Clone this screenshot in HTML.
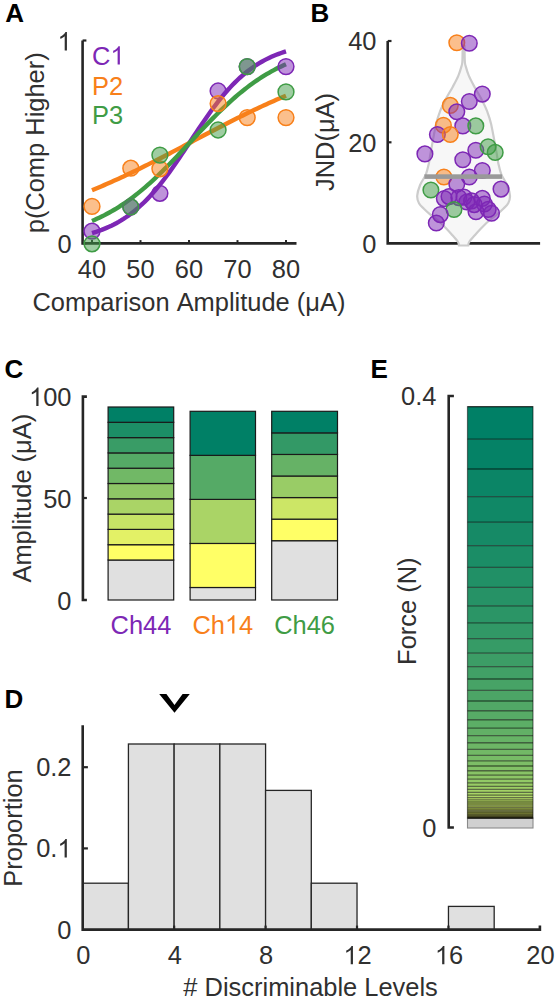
<!DOCTYPE html>
<html><head><meta charset="utf-8"><style>
html,body{margin:0;padding:0;background:#fff;}
svg{display:block;font-family:"Liberation Sans",sans-serif;font-kerning:none;font-feature-settings:"kern" 0;}
</style></head><body>
<svg width="556" height="1000" viewBox="0 0 556 1000">
<rect width="556" height="1000" fill="#fff"/>
<text x="5.2" y="21.6" text-anchor="start" fill="#000" font-size="26.0" font-weight="bold">A</text>
<text x="310.6" y="21.8" text-anchor="start" fill="#000" font-size="26.0" font-weight="bold">B</text>
<text x="4.4" y="378" text-anchor="start" fill="#000" font-size="26.0" font-weight="bold">C</text>
<text x="370.6" y="378" text-anchor="start" fill="#000" font-size="26.0" font-weight="bold">E</text>
<text x="4.4" y="707.7" text-anchor="start" fill="#000" font-size="26.0" font-weight="bold">D</text>
<path d="M82.6 40.5 V243.4 H296.5" fill="none" stroke="#262626" stroke-width="2.6" stroke-linejoin="miter"/>
<line x1="82.6" y1="40.5" x2="86.39999999999999" y2="40.5" stroke="#262626" stroke-width="2.2" stroke-linecap="butt"/>
<line x1="82.6" y1="243.4" x2="86.39999999999999" y2="243.4" stroke="#262626" stroke-width="2.2" stroke-linecap="butt"/>
<line x1="92.0" y1="243.4" x2="92.0" y2="240.1" stroke="#262626" stroke-width="2.0" stroke-linecap="butt"/>
<text x="92.0" y="278.3" text-anchor="middle" fill="#303030" font-size="25.45" font-weight="normal">40</text>
<line x1="140.5" y1="243.4" x2="140.5" y2="240.1" stroke="#262626" stroke-width="2.0" stroke-linecap="butt"/>
<text x="140.5" y="278.3" text-anchor="middle" fill="#303030" font-size="25.45" font-weight="normal">50</text>
<line x1="189.0" y1="243.4" x2="189.0" y2="240.1" stroke="#262626" stroke-width="2.0" stroke-linecap="butt"/>
<text x="189.0" y="278.3" text-anchor="middle" fill="#303030" font-size="25.45" font-weight="normal">60</text>
<line x1="237.5" y1="243.4" x2="237.5" y2="240.1" stroke="#262626" stroke-width="2.0" stroke-linecap="butt"/>
<text x="237.5" y="278.3" text-anchor="middle" fill="#303030" font-size="25.45" font-weight="normal">70</text>
<line x1="286.0" y1="243.4" x2="286.0" y2="240.1" stroke="#262626" stroke-width="2.0" stroke-linecap="butt"/>
<text x="286.0" y="278.3" text-anchor="middle" fill="#303030" font-size="25.45" font-weight="normal">80</text>
<path transform="translate(57.45,50.4) scale(0.012427,-0.012427)" d="M763 0H583V1147Q518 1085 412.5 1023T223 930V1104Q375 1175 489 1276T650 1472H763V0Z" fill="#303030"/>
<text x="71.6" y="50.4" text-anchor="end" fill="#303030" font-size="25.45" font-weight="normal"> </text>
<text x="71.6" y="253.0" text-anchor="end" fill="#303030" font-size="25.45" font-weight="normal">0</text>
<text x="188.9" y="310.5" text-anchor="middle" fill="#303030" font-size="25.45" font-weight="normal">Comparison Amplitude (μA)</text>
<text transform="translate(43.5,142.8) rotate(-90)" text-anchor="middle" fill="#303030" font-size="25.45" font-weight="normal">p(Comp Higher)</text>
<path transform="translate(110.38,64.5) scale(0.012427,-0.012427)" d="M763 0H583V1147Q518 1085 412.5 1023T223 930V1104Q375 1175 489 1276T650 1472H763V0Z" fill="#7D27B5"/>
<text x="92.0" y="64.5" text-anchor="start" fill="#7D27B5" font-size="25.45" font-weight="normal">C </text>
<text x="92.0" y="94.5" text-anchor="start" fill="#F8801A" font-size="25.45" font-weight="normal">P2</text>
<text x="92.0" y="124.2" text-anchor="start" fill="#3F9C45" font-size="25.45" font-weight="normal">P3</text>
<polyline points="92.00,233.09 94.42,232.36 96.85,231.58 99.28,230.74 101.70,229.86 104.12,228.91 106.55,227.90 108.97,226.84 111.40,225.70 113.83,224.49 116.25,223.21 118.67,221.86 121.10,220.42 123.53,218.90 125.95,217.30 128.38,215.61 130.80,213.82 133.22,211.94 135.65,209.97 138.07,207.90 140.50,205.72 142.93,203.45 145.35,201.07 147.78,198.59 150.20,196.01 152.62,193.33 155.05,190.55 157.47,187.67 159.90,184.69 162.32,181.62 164.75,178.47 167.18,175.23 169.60,171.91 172.02,168.52 174.45,165.06 176.88,161.55 179.30,157.99 181.72,154.38 184.15,150.75 186.57,147.09 189.00,143.42 191.43,139.74 193.85,136.08 196.27,132.42 198.70,128.79 201.12,125.20 203.55,121.64 205.97,118.14 208.40,114.70 210.82,111.32 213.25,108.02 215.68,104.80 218.10,101.66 220.52,98.61 222.95,95.65 225.38,92.79 227.80,90.02 230.22,87.36 232.65,84.80 235.07,82.34 237.50,79.99 239.92,77.73 242.35,75.58 244.77,73.53 247.20,71.57 249.62,69.71 252.05,67.95 254.47,66.27 256.90,64.69 259.32,63.18 261.75,61.77 264.17,60.42 266.60,59.16 269.02,57.97 271.45,56.85 273.88,55.79 276.30,54.80 278.73,53.86 281.15,52.99 283.57,52.16 286.00,51.39" fill="none" stroke="#7D27B5" stroke-width="4.4"/>
<polyline points="92.00,190.23 94.42,189.23 96.85,188.23 99.28,187.20 101.70,186.17 104.12,185.13 106.55,184.08 108.97,183.01 111.40,181.93 113.83,180.85 116.25,179.75 118.67,178.64 121.10,177.52 123.53,176.39 125.95,175.25 128.38,174.11 130.80,172.95 133.22,171.78 135.65,170.61 138.07,169.43 140.50,168.24 142.93,167.04 145.35,165.83 147.78,164.62 150.20,163.40 152.62,162.17 155.05,160.94 157.47,159.70 159.90,158.45 162.32,157.20 164.75,155.95 167.18,154.69 169.60,153.43 172.02,152.16 174.45,150.89 176.88,149.62 179.30,148.35 181.72,147.07 184.15,145.79 186.57,144.51 189.00,143.23 191.43,141.95 193.85,140.67 196.27,139.39 198.70,138.11 201.12,136.83 203.55,135.55 205.97,134.28 208.40,133.01 210.82,131.74 213.25,130.47 215.68,129.21 218.10,127.95 220.52,126.70 222.95,125.45 225.38,124.20 227.80,122.96 230.22,121.73 232.65,120.50 235.07,119.28 237.50,118.07 239.92,116.86 242.35,115.66 244.77,114.47 247.20,113.29 249.62,112.12 252.05,110.95 254.47,109.79 256.90,108.65 259.32,107.51 261.75,106.38 264.17,105.26 266.60,104.15 269.02,103.05 271.45,101.97 273.88,100.89 276.30,99.82 278.73,98.77 281.15,97.73 283.57,96.70 286.00,95.67" fill="none" stroke="#F8801A" stroke-width="4.4"/>
<polyline points="92.00,220.99 94.42,219.95 96.85,218.86 99.28,217.73 101.70,216.56 104.12,215.34 106.55,214.07 108.97,212.76 111.40,211.40 113.83,209.99 116.25,208.53 118.67,207.02 121.10,205.46 123.53,203.85 125.95,202.19 128.38,200.47 130.80,198.71 133.22,196.89 135.65,195.02 138.07,193.11 140.50,191.14 142.93,189.12 145.35,187.05 147.78,184.94 150.20,182.77 152.62,180.57 155.05,178.32 157.47,176.02 159.90,173.69 162.32,171.32 164.75,168.92 167.18,166.48 169.60,164.01 172.02,161.51 174.45,158.99 176.88,156.45 179.30,153.88 181.72,151.31 184.15,148.72 186.57,146.12 189.00,143.51 191.43,140.91 193.85,138.30 196.27,135.70 198.70,133.11 201.12,130.53 203.55,127.96 205.97,125.42 208.40,122.89 210.82,120.39 213.25,117.91 215.68,115.47 218.10,113.06 220.52,110.68 222.95,108.34 225.38,106.04 227.80,103.78 230.22,101.56 232.65,99.39 235.07,97.27 237.50,95.19 239.92,93.16 242.35,91.18 244.77,89.26 247.20,87.38 249.62,85.55 252.05,83.78 254.47,82.05 256.90,80.38 259.32,78.76 261.75,77.19 264.17,75.67 266.60,74.20 269.02,72.78 271.45,71.41 273.88,70.09 276.30,68.81 278.73,67.58 281.15,66.40 283.57,65.26 286.00,64.17" fill="none" stroke="#3F9C45" stroke-width="4.4"/>
<circle cx="92.00" cy="231.2" r="7.9" fill="#7D27B5" fill-opacity="0.5" stroke="#7D27B5" stroke-width="1.5"/>
<circle cx="130.80" cy="207.0" r="7.9" fill="#7D27B5" fill-opacity="0.5" stroke="#7D27B5" stroke-width="1.5"/>
<circle cx="159.90" cy="193.3" r="7.9" fill="#7D27B5" fill-opacity="0.5" stroke="#7D27B5" stroke-width="1.5"/>
<circle cx="218.10" cy="91.0" r="7.9" fill="#7D27B5" fill-opacity="0.5" stroke="#7D27B5" stroke-width="1.5"/>
<circle cx="247.20" cy="66.6" r="7.9" fill="#7D27B5" fill-opacity="0.5" stroke="#7D27B5" stroke-width="1.5"/>
<circle cx="286.00" cy="66.6" r="7.9" fill="#7D27B5" fill-opacity="0.5" stroke="#7D27B5" stroke-width="1.5"/>
<circle cx="92.00" cy="206.4" r="7.9" fill="#F8801A" fill-opacity="0.5" stroke="#F8801A" stroke-width="1.5"/>
<circle cx="130.80" cy="168.2" r="7.9" fill="#F8801A" fill-opacity="0.5" stroke="#F8801A" stroke-width="1.5"/>
<circle cx="159.90" cy="168.8" r="7.9" fill="#F8801A" fill-opacity="0.5" stroke="#F8801A" stroke-width="1.5"/>
<circle cx="218.10" cy="103.6" r="7.9" fill="#F8801A" fill-opacity="0.5" stroke="#F8801A" stroke-width="1.5"/>
<circle cx="247.20" cy="117.6" r="7.9" fill="#F8801A" fill-opacity="0.5" stroke="#F8801A" stroke-width="1.5"/>
<circle cx="286.00" cy="117.6" r="7.9" fill="#F8801A" fill-opacity="0.5" stroke="#F8801A" stroke-width="1.5"/>
<circle cx="92.00" cy="243.8" r="7.9" fill="#3F9C45" fill-opacity="0.5" stroke="#3F9C45" stroke-width="1.5"/>
<circle cx="130.80" cy="207.0" r="7.9" fill="#3F9C45" fill-opacity="0.5" stroke="#3F9C45" stroke-width="1.5"/>
<circle cx="159.90" cy="155.1" r="7.9" fill="#3F9C45" fill-opacity="0.5" stroke="#3F9C45" stroke-width="1.5"/>
<circle cx="218.10" cy="130.0" r="7.9" fill="#3F9C45" fill-opacity="0.5" stroke="#3F9C45" stroke-width="1.5"/>
<circle cx="247.20" cy="66.6" r="7.9" fill="#3F9C45" fill-opacity="0.5" stroke="#3F9C45" stroke-width="1.5"/>
<circle cx="286.00" cy="91.9" r="7.9" fill="#3F9C45" fill-opacity="0.5" stroke="#3F9C45" stroke-width="1.5"/>
<path d="M387.7 41.0 V243.4 H540.1" fill="none" stroke="#262626" stroke-width="2.6"/>
<path d="M462.70 45.50 C462.65 48.08 462.58 57.60 462.40 61.00 C462.22 64.40 462.27 63.47 461.60 65.90 C460.93 68.33 459.88 72.10 458.40 75.60 C456.92 79.10 454.73 83.12 452.70 86.90 C450.67 90.68 448.30 94.25 446.20 98.30 C444.10 102.35 441.78 106.90 440.10 111.20 C438.42 115.50 437.65 117.32 436.10 124.10 C434.55 130.88 432.02 145.30 430.80 151.90 C429.58 158.50 429.63 159.92 428.80 163.70 C427.97 167.48 427.25 171.05 425.80 174.60 C424.35 178.15 421.53 181.47 420.10 185.00 C418.67 188.53 417.38 192.75 417.20 195.80 C417.02 198.85 417.88 201.15 419.00 203.30 C420.12 205.45 422.10 206.90 423.90 208.70 C425.70 210.50 427.35 212.05 429.80 214.10 C432.25 216.15 435.90 218.65 438.60 221.00 C441.30 223.35 443.88 226.03 446.00 228.20 C448.12 230.37 449.30 231.70 451.30 234.00 C453.30 236.30 456.75 240.08 458.00 242.00 C459.25 243.92 458.67 244.92 458.80 245.50 L468.40 245.50 C468.53 244.92 467.95 243.92 469.20 242.00 C470.45 240.08 473.90 236.30 475.90 234.00 C477.90 231.70 479.08 230.37 481.20 228.20 C483.32 226.03 485.90 223.35 488.60 221.00 C491.30 218.65 494.95 216.15 497.40 214.10 C499.85 212.05 501.50 210.50 503.30 208.70 C505.10 206.90 507.08 205.45 508.20 203.30 C509.32 201.15 510.18 198.85 510.00 195.80 C509.82 192.75 508.53 188.53 507.10 185.00 C505.67 181.47 502.85 178.15 501.40 174.60 C499.95 171.05 499.23 167.48 498.40 163.70 C497.57 159.92 497.62 158.50 496.40 151.90 C495.18 145.30 492.65 130.88 491.10 124.10 C489.55 117.32 488.78 115.50 487.10 111.20 C485.42 106.90 483.10 102.35 481.00 98.30 C478.90 94.25 476.53 90.68 474.50 86.90 C472.47 83.12 470.28 79.10 468.80 75.60 C467.32 72.10 466.27 68.33 465.60 65.90 C464.93 63.47 464.98 64.40 464.80 61.00 C464.62 57.60 464.55 48.08 464.50 45.50 Z" fill="#F7F7F7" stroke="#CCCCCC" stroke-width="2.2" stroke-linejoin="round"/>
<line x1="387.7" y1="41.0" x2="391.5" y2="41.0" stroke="#262626" stroke-width="2.2" stroke-linecap="butt"/>
<line x1="387.7" y1="142.3" x2="391.5" y2="142.3" stroke="#262626" stroke-width="2.2" stroke-linecap="butt"/>
<text x="376.5" y="50.3" text-anchor="end" fill="#303030" font-size="25.45" font-weight="normal">40</text>
<text x="376.5" y="151.9" text-anchor="end" fill="#303030" font-size="25.45" font-weight="normal">20</text>
<text x="376.5" y="253.3" text-anchor="end" fill="#303030" font-size="25.45" font-weight="normal">0</text>
<text transform="translate(334.0,142.0) rotate(-90)" text-anchor="middle" fill="#303030" font-size="25.45" font-weight="normal">JND(μA)</text>
<circle cx="456.8" cy="42.8" r="7.8" fill="#F8801A" fill-opacity="0.5" stroke="#F8801A" stroke-width="1.5"/>
<circle cx="469.3" cy="43.2" r="7.8" fill="#7D27B5" fill-opacity="0.5" stroke="#7D27B5" stroke-width="1.5"/>
<circle cx="482.3" cy="94.1" r="7.8" fill="#7D27B5" fill-opacity="0.5" stroke="#7D27B5" stroke-width="1.5"/>
<circle cx="469.3" cy="101.5" r="7.8" fill="#7D27B5" fill-opacity="0.5" stroke="#7D27B5" stroke-width="1.5"/>
<circle cx="450.3" cy="105.4" r="7.8" fill="#F8801A" fill-opacity="0.5" stroke="#F8801A" stroke-width="1.5"/>
<circle cx="456.8" cy="111.8" r="7.8" fill="#7D27B5" fill-opacity="0.5" stroke="#7D27B5" stroke-width="1.5"/>
<circle cx="443.4" cy="125.2" r="7.8" fill="#F8801A" fill-opacity="0.5" stroke="#F8801A" stroke-width="1.5"/>
<circle cx="462.8" cy="125.9" r="7.8" fill="#7D27B5" fill-opacity="0.5" stroke="#7D27B5" stroke-width="1.5"/>
<circle cx="475.8" cy="125.9" r="7.8" fill="#3F9C45" fill-opacity="0.5" stroke="#3F9C45" stroke-width="1.5"/>
<circle cx="437.4" cy="134.5" r="7.8" fill="#7D27B5" fill-opacity="0.5" stroke="#7D27B5" stroke-width="1.5"/>
<circle cx="450.3" cy="134.5" r="7.8" fill="#F8801A" fill-opacity="0.5" stroke="#F8801A" stroke-width="1.5"/>
<circle cx="424.9" cy="153.9" r="7.8" fill="#7D27B5" fill-opacity="0.5" stroke="#7D27B5" stroke-width="1.5"/>
<circle cx="475.8" cy="150.2" r="7.8" fill="#7D27B5" fill-opacity="0.5" stroke="#7D27B5" stroke-width="1.5"/>
<circle cx="488.1" cy="146.8" r="7.8" fill="#3F9C45" fill-opacity="0.5" stroke="#3F9C45" stroke-width="1.5"/>
<circle cx="495.2" cy="152.4" r="7.8" fill="#3F9C45" fill-opacity="0.5" stroke="#3F9C45" stroke-width="1.5"/>
<circle cx="462.8" cy="159.7" r="7.8" fill="#7D27B5" fill-opacity="0.5" stroke="#7D27B5" stroke-width="1.5"/>
<circle cx="482.3" cy="170.5" r="7.8" fill="#7D27B5" fill-opacity="0.5" stroke="#7D27B5" stroke-width="1.5"/>
<circle cx="469.3" cy="177.0" r="7.8" fill="#7D27B5" fill-opacity="0.5" stroke="#7D27B5" stroke-width="1.5"/>
<circle cx="443.9" cy="177.0" r="7.8" fill="#F8801A" fill-opacity="0.5" stroke="#F8801A" stroke-width="1.5"/>
<circle cx="456.8" cy="184.1" r="7.8" fill="#7D27B5" fill-opacity="0.5" stroke="#7D27B5" stroke-width="1.5"/>
<circle cx="430.9" cy="190.0" r="7.8" fill="#3F9C45" fill-opacity="0.5" stroke="#3F9C45" stroke-width="1.5"/>
<circle cx="501.0" cy="189.1" r="7.8" fill="#7D27B5" fill-opacity="0.5" stroke="#7D27B5" stroke-width="1.5"/>
<circle cx="444.3" cy="198.6" r="7.8" fill="#7D27B5" fill-opacity="0.5" stroke="#7D27B5" stroke-width="1.5"/>
<circle cx="449.0" cy="196.6" r="7.8" fill="#7D27B5" fill-opacity="0.5" stroke="#7D27B5" stroke-width="1.5"/>
<circle cx="458.8" cy="197.6" r="7.8" fill="#7D27B5" fill-opacity="0.5" stroke="#7D27B5" stroke-width="1.5"/>
<circle cx="464.0" cy="197.1" r="7.8" fill="#7D27B5" fill-opacity="0.5" stroke="#7D27B5" stroke-width="1.5"/>
<circle cx="466.8" cy="202.0" r="7.8" fill="#7D27B5" fill-opacity="0.5" stroke="#7D27B5" stroke-width="1.5"/>
<circle cx="471.6" cy="200.9" r="7.8" fill="#7D27B5" fill-opacity="0.5" stroke="#7D27B5" stroke-width="1.5"/>
<circle cx="474.2" cy="204.6" r="7.8" fill="#7D27B5" fill-opacity="0.5" stroke="#7D27B5" stroke-width="1.5"/>
<circle cx="482.3" cy="198.4" r="7.8" fill="#7D27B5" fill-opacity="0.5" stroke="#7D27B5" stroke-width="1.5"/>
<circle cx="484.4" cy="204.0" r="7.8" fill="#7D27B5" fill-opacity="0.5" stroke="#7D27B5" stroke-width="1.5"/>
<circle cx="488.2" cy="209.4" r="7.8" fill="#7D27B5" fill-opacity="0.5" stroke="#7D27B5" stroke-width="1.5"/>
<circle cx="476.0" cy="211.8" r="7.8" fill="#7D27B5" fill-opacity="0.5" stroke="#7D27B5" stroke-width="1.5"/>
<circle cx="491.5" cy="213.2" r="7.8" fill="#7D27B5" fill-opacity="0.5" stroke="#7D27B5" stroke-width="1.5"/>
<circle cx="454.0" cy="209.5" r="7.8" fill="#3F9C45" fill-opacity="0.5" stroke="#3F9C45" stroke-width="1.5"/>
<circle cx="440.3" cy="214.6" r="7.8" fill="#7D27B5" fill-opacity="0.5" stroke="#7D27B5" stroke-width="1.5"/>
<circle cx="436.3" cy="223.0" r="7.8" fill="#7D27B5" fill-opacity="0.5" stroke="#7D27B5" stroke-width="1.5"/>
<rect x="424.4" y="174.3" width="77.7" height="4.6" fill="#999999"/>
<path d="M86.9 396.6 H82.9 V600.0 H86.9" fill="none" stroke="#262626" stroke-width="2.6"/>
<line x1="82.9" y1="498.0" x2="86.9" y2="498.0" stroke="#262626" stroke-width="2.2" stroke-linecap="butt"/>
<path transform="translate(29.04,405.9) scale(0.012427,-0.012427)" d="M763 0H583V1147Q518 1085 412.5 1023T223 930V1104Q375 1175 489 1276T650 1472H763V0Z" fill="#303030"/>
<text x="71.5" y="405.9" text-anchor="end" fill="#303030" font-size="25.45" font-weight="normal"> 00</text>
<text x="71.5" y="507.6" text-anchor="end" fill="#303030" font-size="25.45" font-weight="normal">50</text>
<text x="71.5" y="609.5" text-anchor="end" fill="#303030" font-size="25.45" font-weight="normal">0</text>
<text transform="translate(30.8,498.2) rotate(-90)" text-anchor="middle" fill="#303030" font-size="25.45" font-weight="normal">Amplitude (μA)</text>
<rect x="108.1" y="560.0" width="65.6" height="40.0" fill="#E0E0E0" stroke="#1a1a1a" stroke-width="1.2"/>
<rect x="108.1" y="544.70" width="65.6" height="15.30" fill="#FFFF66" stroke="#1a1a1a" stroke-width="1.2"/>
<rect x="108.1" y="529.40" width="65.6" height="15.30" fill="#E3F166" stroke="#1a1a1a" stroke-width="1.2"/>
<rect x="108.1" y="514.10" width="65.6" height="15.30" fill="#C6E366" stroke="#1a1a1a" stroke-width="1.2"/>
<rect x="108.1" y="498.80" width="65.6" height="15.30" fill="#AAD466" stroke="#1a1a1a" stroke-width="1.2"/>
<rect x="108.1" y="483.50" width="65.6" height="15.30" fill="#8EC666" stroke="#1a1a1a" stroke-width="1.2"/>
<rect x="108.1" y="468.20" width="65.6" height="15.30" fill="#71B866" stroke="#1a1a1a" stroke-width="1.2"/>
<rect x="108.1" y="452.90" width="65.6" height="15.30" fill="#55AA66" stroke="#1a1a1a" stroke-width="1.2"/>
<rect x="108.1" y="437.60" width="65.6" height="15.30" fill="#399C66" stroke="#1a1a1a" stroke-width="1.2"/>
<rect x="108.1" y="422.30" width="65.6" height="15.30" fill="#1C8E66" stroke="#1a1a1a" stroke-width="1.2"/>
<rect x="108.1" y="407.00" width="65.6" height="15.30" fill="#008066" stroke="#1a1a1a" stroke-width="1.2"/>
<rect x="190.1" y="587.5" width="65.4" height="12.5" fill="#E0E0E0" stroke="#1a1a1a" stroke-width="1.2"/>
<rect x="190.1" y="543.45" width="65.4" height="44.05" fill="#FFFF66" stroke="#1a1a1a" stroke-width="1.2"/>
<rect x="190.1" y="499.40" width="65.4" height="44.05" fill="#AAD466" stroke="#1a1a1a" stroke-width="1.2"/>
<rect x="190.1" y="455.35" width="65.4" height="44.05" fill="#55AA66" stroke="#1a1a1a" stroke-width="1.2"/>
<rect x="190.1" y="411.30" width="65.4" height="44.05" fill="#008066" stroke="#1a1a1a" stroke-width="1.2"/>
<rect x="271.7" y="540.7" width="65.80000000000001" height="59.299999999999955" fill="#E0E0E0" stroke="#1a1a1a" stroke-width="1.2"/>
<rect x="271.7" y="519.13" width="65.80000000000001" height="21.57" fill="#FFFF66" stroke="#1a1a1a" stroke-width="1.2"/>
<rect x="271.7" y="497.57" width="65.80000000000001" height="21.57" fill="#CCE666" stroke="#1a1a1a" stroke-width="1.2"/>
<rect x="271.7" y="476.00" width="65.80000000000001" height="21.57" fill="#99CC66" stroke="#1a1a1a" stroke-width="1.2"/>
<rect x="271.7" y="454.43" width="65.80000000000001" height="21.57" fill="#66B266" stroke="#1a1a1a" stroke-width="1.2"/>
<rect x="271.7" y="432.87" width="65.80000000000001" height="21.57" fill="#339966" stroke="#1a1a1a" stroke-width="1.2"/>
<rect x="271.7" y="411.30" width="65.80000000000001" height="21.57" fill="#008066" stroke="#1a1a1a" stroke-width="1.2"/>
<text x="141.0" y="633.5" text-anchor="middle" fill="#7D27B5" font-size="25.45" font-weight="normal">Ch44</text>
<path transform="translate(224.91,633.5) scale(0.012427,-0.012427)" d="M763 0H583V1147Q518 1085 412.5 1023T223 930V1104Q375 1175 489 1276T650 1472H763V0Z" fill="#F8801A"/>
<text x="222.8" y="633.5" text-anchor="middle" fill="#F8801A" font-size="25.45" font-weight="normal">Ch 4</text>
<text x="304.6" y="633.5" text-anchor="middle" fill="#3F9C45" font-size="25.45" font-weight="normal">Ch46</text>
<path d="M453.9 396.0 H448.7 V827.5 H453.9" fill="none" stroke="#262626" stroke-width="2.6"/>
<text x="436.4" y="405.0" text-anchor="end" fill="#303030" font-size="25.45" font-weight="normal">0.4</text>
<text x="436.4" y="836.5" text-anchor="end" fill="#303030" font-size="25.45" font-weight="normal">0</text>
<text transform="translate(416.4,611.2) rotate(-90)" text-anchor="middle" fill="#303030" font-size="25.45" font-weight="normal">Force (N)</text>
<rect x="467.5" y="818.10" width="65.5" height="9.90" fill="#D0D0D0" stroke="#8a8a8a" stroke-width="1.1"/>
<rect x="467.5" y="406.70" width="65.5" height="32.40" fill="#008066"/>
<rect x="467.5" y="439.10" width="65.5" height="29.91" fill="#058266"/>
<rect x="467.5" y="469.01" width="65.5" height="27.60" fill="#0B8566"/>
<rect x="467.5" y="496.61" width="65.5" height="25.48" fill="#108866"/>
<rect x="467.5" y="522.09" width="65.5" height="23.52" fill="#168A66"/>
<rect x="467.5" y="545.61" width="65.5" height="21.71" fill="#1B8D66"/>
<rect x="467.5" y="567.31" width="65.5" height="20.03" fill="#219066"/>
<rect x="467.5" y="587.35" width="65.5" height="18.49" fill="#269266"/>
<rect x="467.5" y="605.84" width="65.5" height="17.07" fill="#2B9566"/>
<rect x="467.5" y="622.91" width="65.5" height="15.75" fill="#319866"/>
<rect x="467.5" y="638.66" width="65.5" height="14.54" fill="#369B66"/>
<rect x="467.5" y="653.20" width="65.5" height="13.42" fill="#3C9D66"/>
<rect x="467.5" y="666.62" width="65.5" height="12.39" fill="#41A066"/>
<rect x="467.5" y="679.01" width="65.5" height="11.43" fill="#47A366"/>
<rect x="467.5" y="690.44" width="65.5" height="10.55" fill="#4CA566"/>
<rect x="467.5" y="701.00" width="65.5" height="9.74" fill="#51A866"/>
<rect x="467.5" y="710.74" width="65.5" height="8.99" fill="#57AB66"/>
<rect x="467.5" y="719.73" width="65.5" height="8.30" fill="#5CAE66"/>
<rect x="467.5" y="728.03" width="65.5" height="7.66" fill="#62B066"/>
<rect x="467.5" y="735.69" width="65.5" height="7.07" fill="#67B366"/>
<rect x="467.5" y="742.76" width="65.5" height="6.53" fill="#6DB666"/>
<rect x="467.5" y="749.28" width="65.5" height="6.02" fill="#72B866"/>
<rect x="467.5" y="755.30" width="65.5" height="5.56" fill="#77BB66"/>
<rect x="467.5" y="760.86" width="65.5" height="5.13" fill="#7DBE66"/>
<rect x="467.5" y="765.99" width="65.5" height="4.74" fill="#82C166"/>
<rect x="467.5" y="770.73" width="65.5" height="4.37" fill="#88C366"/>
<rect x="467.5" y="775.10" width="65.5" height="4.03" fill="#8DC666"/>
<rect x="467.5" y="779.14" width="65.5" height="3.72" fill="#92C966"/>
<rect x="467.5" y="782.86" width="65.5" height="3.44" fill="#98CB66"/>
<rect x="467.5" y="786.30" width="65.5" height="3.17" fill="#9DCE66"/>
<rect x="467.5" y="789.47" width="65.5" height="2.93" fill="#A3D166"/>
<rect x="467.5" y="792.40" width="65.5" height="2.70" fill="#A8D466"/>
<rect x="467.5" y="795.10" width="65.5" height="2.49" fill="#AED666"/>
<rect x="467.5" y="797.60" width="65.5" height="2.30" fill="#B3D966"/>
<rect x="467.5" y="799.90" width="65.5" height="2.13" fill="#B8DC66"/>
<rect x="467.5" y="802.02" width="65.5" height="1.96" fill="#BEDE66"/>
<rect x="467.5" y="803.99" width="65.5" height="1.81" fill="#C3E166"/>
<rect x="467.5" y="805.80" width="65.5" height="1.67" fill="#C9E466"/>
<rect x="467.5" y="807.47" width="65.5" height="1.54" fill="#CEE766"/>
<rect x="467.5" y="809.01" width="65.5" height="1.42" fill="#D4E966"/>
<rect x="467.5" y="810.43" width="65.5" height="1.31" fill="#D9EC66"/>
<rect x="467.5" y="811.75" width="65.5" height="1.21" fill="#DEEF66"/>
<rect x="467.5" y="812.96" width="65.5" height="1.12" fill="#E4F166"/>
<rect x="467.5" y="814.08" width="65.5" height="1.03" fill="#E9F466"/>
<rect x="467.5" y="815.11" width="65.5" height="0.95" fill="#EFF766"/>
<rect x="467.5" y="816.07" width="65.5" height="0.88" fill="#F4FA66"/>
<rect x="467.5" y="816.95" width="65.5" height="0.81" fill="#FAFC66"/>
<rect x="467.5" y="817.76" width="65.5" height="0.34" fill="#FFFF66"/>
<line x1="467.5" y1="406.70" x2="533.0" y2="406.70" stroke="#000" stroke-opacity="0.5" stroke-width="1.3"/>
<line x1="467.5" y1="439.10" x2="533.0" y2="439.10" stroke="#000" stroke-opacity="0.5" stroke-width="1.3"/>
<line x1="467.5" y1="469.01" x2="533.0" y2="469.01" stroke="#000" stroke-opacity="0.5" stroke-width="1.3"/>
<line x1="467.5" y1="496.61" x2="533.0" y2="496.61" stroke="#000" stroke-opacity="0.5" stroke-width="1.3"/>
<line x1="467.5" y1="522.09" x2="533.0" y2="522.09" stroke="#000" stroke-opacity="0.5" stroke-width="1.3"/>
<line x1="467.5" y1="545.61" x2="533.0" y2="545.61" stroke="#000" stroke-opacity="0.5" stroke-width="1.3"/>
<line x1="467.5" y1="567.31" x2="533.0" y2="567.31" stroke="#000" stroke-opacity="0.5" stroke-width="1.3"/>
<line x1="467.5" y1="587.35" x2="533.0" y2="587.35" stroke="#000" stroke-opacity="0.5" stroke-width="1.3"/>
<line x1="467.5" y1="605.84" x2="533.0" y2="605.84" stroke="#000" stroke-opacity="0.5" stroke-width="1.3"/>
<line x1="467.5" y1="622.91" x2="533.0" y2="622.91" stroke="#000" stroke-opacity="0.5" stroke-width="1.3"/>
<line x1="467.5" y1="638.66" x2="533.0" y2="638.66" stroke="#000" stroke-opacity="0.5" stroke-width="1.3"/>
<line x1="467.5" y1="653.20" x2="533.0" y2="653.20" stroke="#000" stroke-opacity="0.5" stroke-width="1.3"/>
<line x1="467.5" y1="666.62" x2="533.0" y2="666.62" stroke="#000" stroke-opacity="0.5" stroke-width="1.3"/>
<line x1="467.5" y1="679.01" x2="533.0" y2="679.01" stroke="#000" stroke-opacity="0.5" stroke-width="1.3"/>
<line x1="467.5" y1="690.44" x2="533.0" y2="690.44" stroke="#000" stroke-opacity="0.5" stroke-width="1.3"/>
<line x1="467.5" y1="701.00" x2="533.0" y2="701.00" stroke="#000" stroke-opacity="0.5" stroke-width="1.3"/>
<line x1="467.5" y1="710.74" x2="533.0" y2="710.74" stroke="#000" stroke-opacity="0.5" stroke-width="1.3"/>
<line x1="467.5" y1="719.73" x2="533.0" y2="719.73" stroke="#000" stroke-opacity="0.5" stroke-width="1.3"/>
<line x1="467.5" y1="728.03" x2="533.0" y2="728.03" stroke="#000" stroke-opacity="0.5" stroke-width="1.3"/>
<line x1="467.5" y1="735.69" x2="533.0" y2="735.69" stroke="#000" stroke-opacity="0.5" stroke-width="1.3"/>
<line x1="467.5" y1="742.76" x2="533.0" y2="742.76" stroke="#000" stroke-opacity="0.5" stroke-width="1.3"/>
<line x1="467.5" y1="749.28" x2="533.0" y2="749.28" stroke="#000" stroke-opacity="0.5" stroke-width="1.3"/>
<line x1="467.5" y1="755.30" x2="533.0" y2="755.30" stroke="#000" stroke-opacity="0.5" stroke-width="1.3"/>
<line x1="467.5" y1="760.86" x2="533.0" y2="760.86" stroke="#000" stroke-opacity="0.5" stroke-width="1.3"/>
<line x1="467.5" y1="765.99" x2="533.0" y2="765.99" stroke="#000" stroke-opacity="0.5" stroke-width="1.3"/>
<line x1="467.5" y1="770.73" x2="533.0" y2="770.73" stroke="#000" stroke-opacity="0.5" stroke-width="1.3"/>
<line x1="467.5" y1="775.10" x2="533.0" y2="775.10" stroke="#000" stroke-opacity="0.5" stroke-width="1.3"/>
<line x1="467.5" y1="779.14" x2="533.0" y2="779.14" stroke="#000" stroke-opacity="0.5" stroke-width="1.3"/>
<line x1="467.5" y1="782.86" x2="533.0" y2="782.86" stroke="#000" stroke-opacity="0.5" stroke-width="1.3"/>
<line x1="467.5" y1="786.30" x2="533.0" y2="786.30" stroke="#000" stroke-opacity="0.5" stroke-width="1.3"/>
<line x1="467.5" y1="789.47" x2="533.0" y2="789.47" stroke="#000" stroke-opacity="0.5" stroke-width="1.3"/>
<line x1="467.5" y1="792.40" x2="533.0" y2="792.40" stroke="#000" stroke-opacity="0.5" stroke-width="1.3"/>
<line x1="467.5" y1="795.10" x2="533.0" y2="795.10" stroke="#000" stroke-opacity="0.5" stroke-width="1.3"/>
<line x1="467.5" y1="797.60" x2="533.0" y2="797.60" stroke="#000" stroke-opacity="0.5" stroke-width="1.3"/>
<line x1="467.5" y1="799.90" x2="533.0" y2="799.90" stroke="#000" stroke-opacity="0.5" stroke-width="1.3"/>
<line x1="467.5" y1="802.02" x2="533.0" y2="802.02" stroke="#000" stroke-opacity="0.5" stroke-width="1.3"/>
<line x1="467.5" y1="803.99" x2="533.0" y2="803.99" stroke="#000" stroke-opacity="0.5" stroke-width="1.3"/>
<line x1="467.5" y1="805.80" x2="533.0" y2="805.80" stroke="#000" stroke-opacity="0.5" stroke-width="1.3"/>
<line x1="467.5" y1="807.47" x2="533.0" y2="807.47" stroke="#000" stroke-opacity="0.5" stroke-width="1.3"/>
<line x1="467.5" y1="809.01" x2="533.0" y2="809.01" stroke="#000" stroke-opacity="0.5" stroke-width="1.3"/>
<line x1="467.5" y1="810.43" x2="533.0" y2="810.43" stroke="#000" stroke-opacity="0.5" stroke-width="1.3"/>
<line x1="467.5" y1="811.75" x2="533.0" y2="811.75" stroke="#000" stroke-opacity="0.5" stroke-width="1.3"/>
<line x1="467.5" y1="812.96" x2="533.0" y2="812.96" stroke="#000" stroke-opacity="0.5" stroke-width="1.3"/>
<line x1="467.5" y1="814.08" x2="533.0" y2="814.08" stroke="#000" stroke-opacity="0.5" stroke-width="1.3"/>
<line x1="467.5" y1="815.11" x2="533.0" y2="815.11" stroke="#000" stroke-opacity="0.5" stroke-width="1.3"/>
<line x1="467.5" y1="816.07" x2="533.0" y2="816.07" stroke="#000" stroke-opacity="0.5" stroke-width="1.3"/>
<line x1="467.5" y1="816.95" x2="533.0" y2="816.95" stroke="#000" stroke-opacity="0.5" stroke-width="1.3"/>
<line x1="467.5" y1="817.76" x2="533.0" y2="817.76" stroke="#000" stroke-opacity="0.5" stroke-width="1.3"/>
<line x1="467.5" y1="818.10" x2="533.0" y2="818.10" stroke="#000" stroke-opacity="0.5" stroke-width="1.3"/>
<defs><linearGradient id="eg" x1="0" y1="0" x2="0" y2="1"><stop offset="0" stop-color="#000" stop-opacity="0"/><stop offset="0.6" stop-color="#000" stop-opacity="0.15"/><stop offset="1" stop-color="#000" stop-opacity="0.42"/></linearGradient></defs>
<rect x="467.5" y="806" width="65.5" height="12.10" fill="url(#eg)"/>
<rect x="467.5" y="406.70" width="65.5" height="411.40" fill="none" stroke="#000" stroke-opacity="0.5" stroke-width="1.2"/>
<rect x="82.70" y="883.20" width="45.72" height="46.40" fill="#E0E0E0" stroke="#262626" stroke-width="1.3"/>
<rect x="128.42" y="744.00" width="45.72" height="185.60" fill="#E0E0E0" stroke="#262626" stroke-width="1.3"/>
<rect x="174.14" y="744.00" width="45.72" height="185.60" fill="#E0E0E0" stroke="#262626" stroke-width="1.3"/>
<rect x="219.86" y="744.00" width="45.72" height="185.60" fill="#E0E0E0" stroke="#262626" stroke-width="1.3"/>
<rect x="265.58" y="790.40" width="45.72" height="139.20" fill="#E0E0E0" stroke="#262626" stroke-width="1.3"/>
<rect x="311.30" y="883.20" width="45.72" height="46.40" fill="#E0E0E0" stroke="#262626" stroke-width="1.3"/>
<rect x="448.46" y="906.40" width="45.72" height="23.20" fill="#E0E0E0" stroke="#262626" stroke-width="1.3"/>
<path d="M82.7 725.3 V929.6 H539.9 V925.6" fill="none" stroke="#262626" stroke-width="2.6"/>
<line x1="82.7" y1="848.4" x2="87.9" y2="848.4" stroke="#262626" stroke-width="2.2" stroke-linecap="butt"/>
<line x1="82.7" y1="767.2" x2="87.9" y2="767.2" stroke="#262626" stroke-width="2.2" stroke-linecap="butt"/>
<line x1="174.14" y1="929.6" x2="174.14" y2="925.6" stroke="#262626" stroke-width="2.2" stroke-linecap="butt"/>
<line x1="265.58" y1="929.6" x2="265.58" y2="925.6" stroke="#262626" stroke-width="2.2" stroke-linecap="butt"/>
<line x1="357.02" y1="929.6" x2="357.02" y2="925.6" stroke="#262626" stroke-width="2.2" stroke-linecap="butt"/>
<line x1="448.46" y1="929.6" x2="448.46" y2="925.6" stroke="#262626" stroke-width="2.2" stroke-linecap="butt"/>
<text x="71.5" y="938.8" text-anchor="end" fill="#303030" font-size="25.45" font-weight="normal">0</text>
<path transform="translate(57.35,857.4) scale(0.012427,-0.012427)" d="M763 0H583V1147Q518 1085 412.5 1023T223 930V1104Q375 1175 489 1276T650 1472H763V0Z" fill="#303030"/>
<text x="71.5" y="857.4" text-anchor="end" fill="#303030" font-size="25.45" font-weight="normal">0. </text>
<text x="71.5" y="776.3" text-anchor="end" fill="#303030" font-size="25.45" font-weight="normal">0.2</text>
<text x="83.3" y="964.3" text-anchor="middle" fill="#303030" font-size="25.45" font-weight="normal">0</text>
<text x="174.73999999999998" y="964.3" text-anchor="middle" fill="#303030" font-size="25.45" font-weight="normal">4</text>
<text x="266.18" y="964.3" text-anchor="middle" fill="#303030" font-size="25.45" font-weight="normal">8</text>
<path transform="translate(343.47,964.3) scale(0.012427,-0.012427)" d="M763 0H583V1147Q518 1085 412.5 1023T223 930V1104Q375 1175 489 1276T650 1472H763V0Z" fill="#303030"/>
<text x="357.62" y="964.3" text-anchor="middle" fill="#303030" font-size="25.45" font-weight="normal"> 2</text>
<path transform="translate(434.91,964.3) scale(0.012427,-0.012427)" d="M763 0H583V1147Q518 1085 412.5 1023T223 930V1104Q375 1175 489 1276T650 1472H763V0Z" fill="#303030"/>
<text x="449.06" y="964.3" text-anchor="middle" fill="#303030" font-size="25.45" font-weight="normal"> 6</text>
<text x="540.5" y="964.3" text-anchor="middle" fill="#303030" font-size="25.45" font-weight="normal">20</text>
<text x="310.6" y="996.4" text-anchor="middle" fill="#303030" font-size="25.45" font-weight="normal"># Discriminable Levels</text>
<text transform="translate(21.8,828.0) rotate(-90)" text-anchor="middle" fill="#303030" font-size="25.45" font-weight="normal">Proportion</text>
<polygon points="159.2,693.9 166.4,693.9 174.5,705.0 182.6,693.9 189.8,693.9 174.5,712.8" fill="#000"/>
</svg></body></html>
